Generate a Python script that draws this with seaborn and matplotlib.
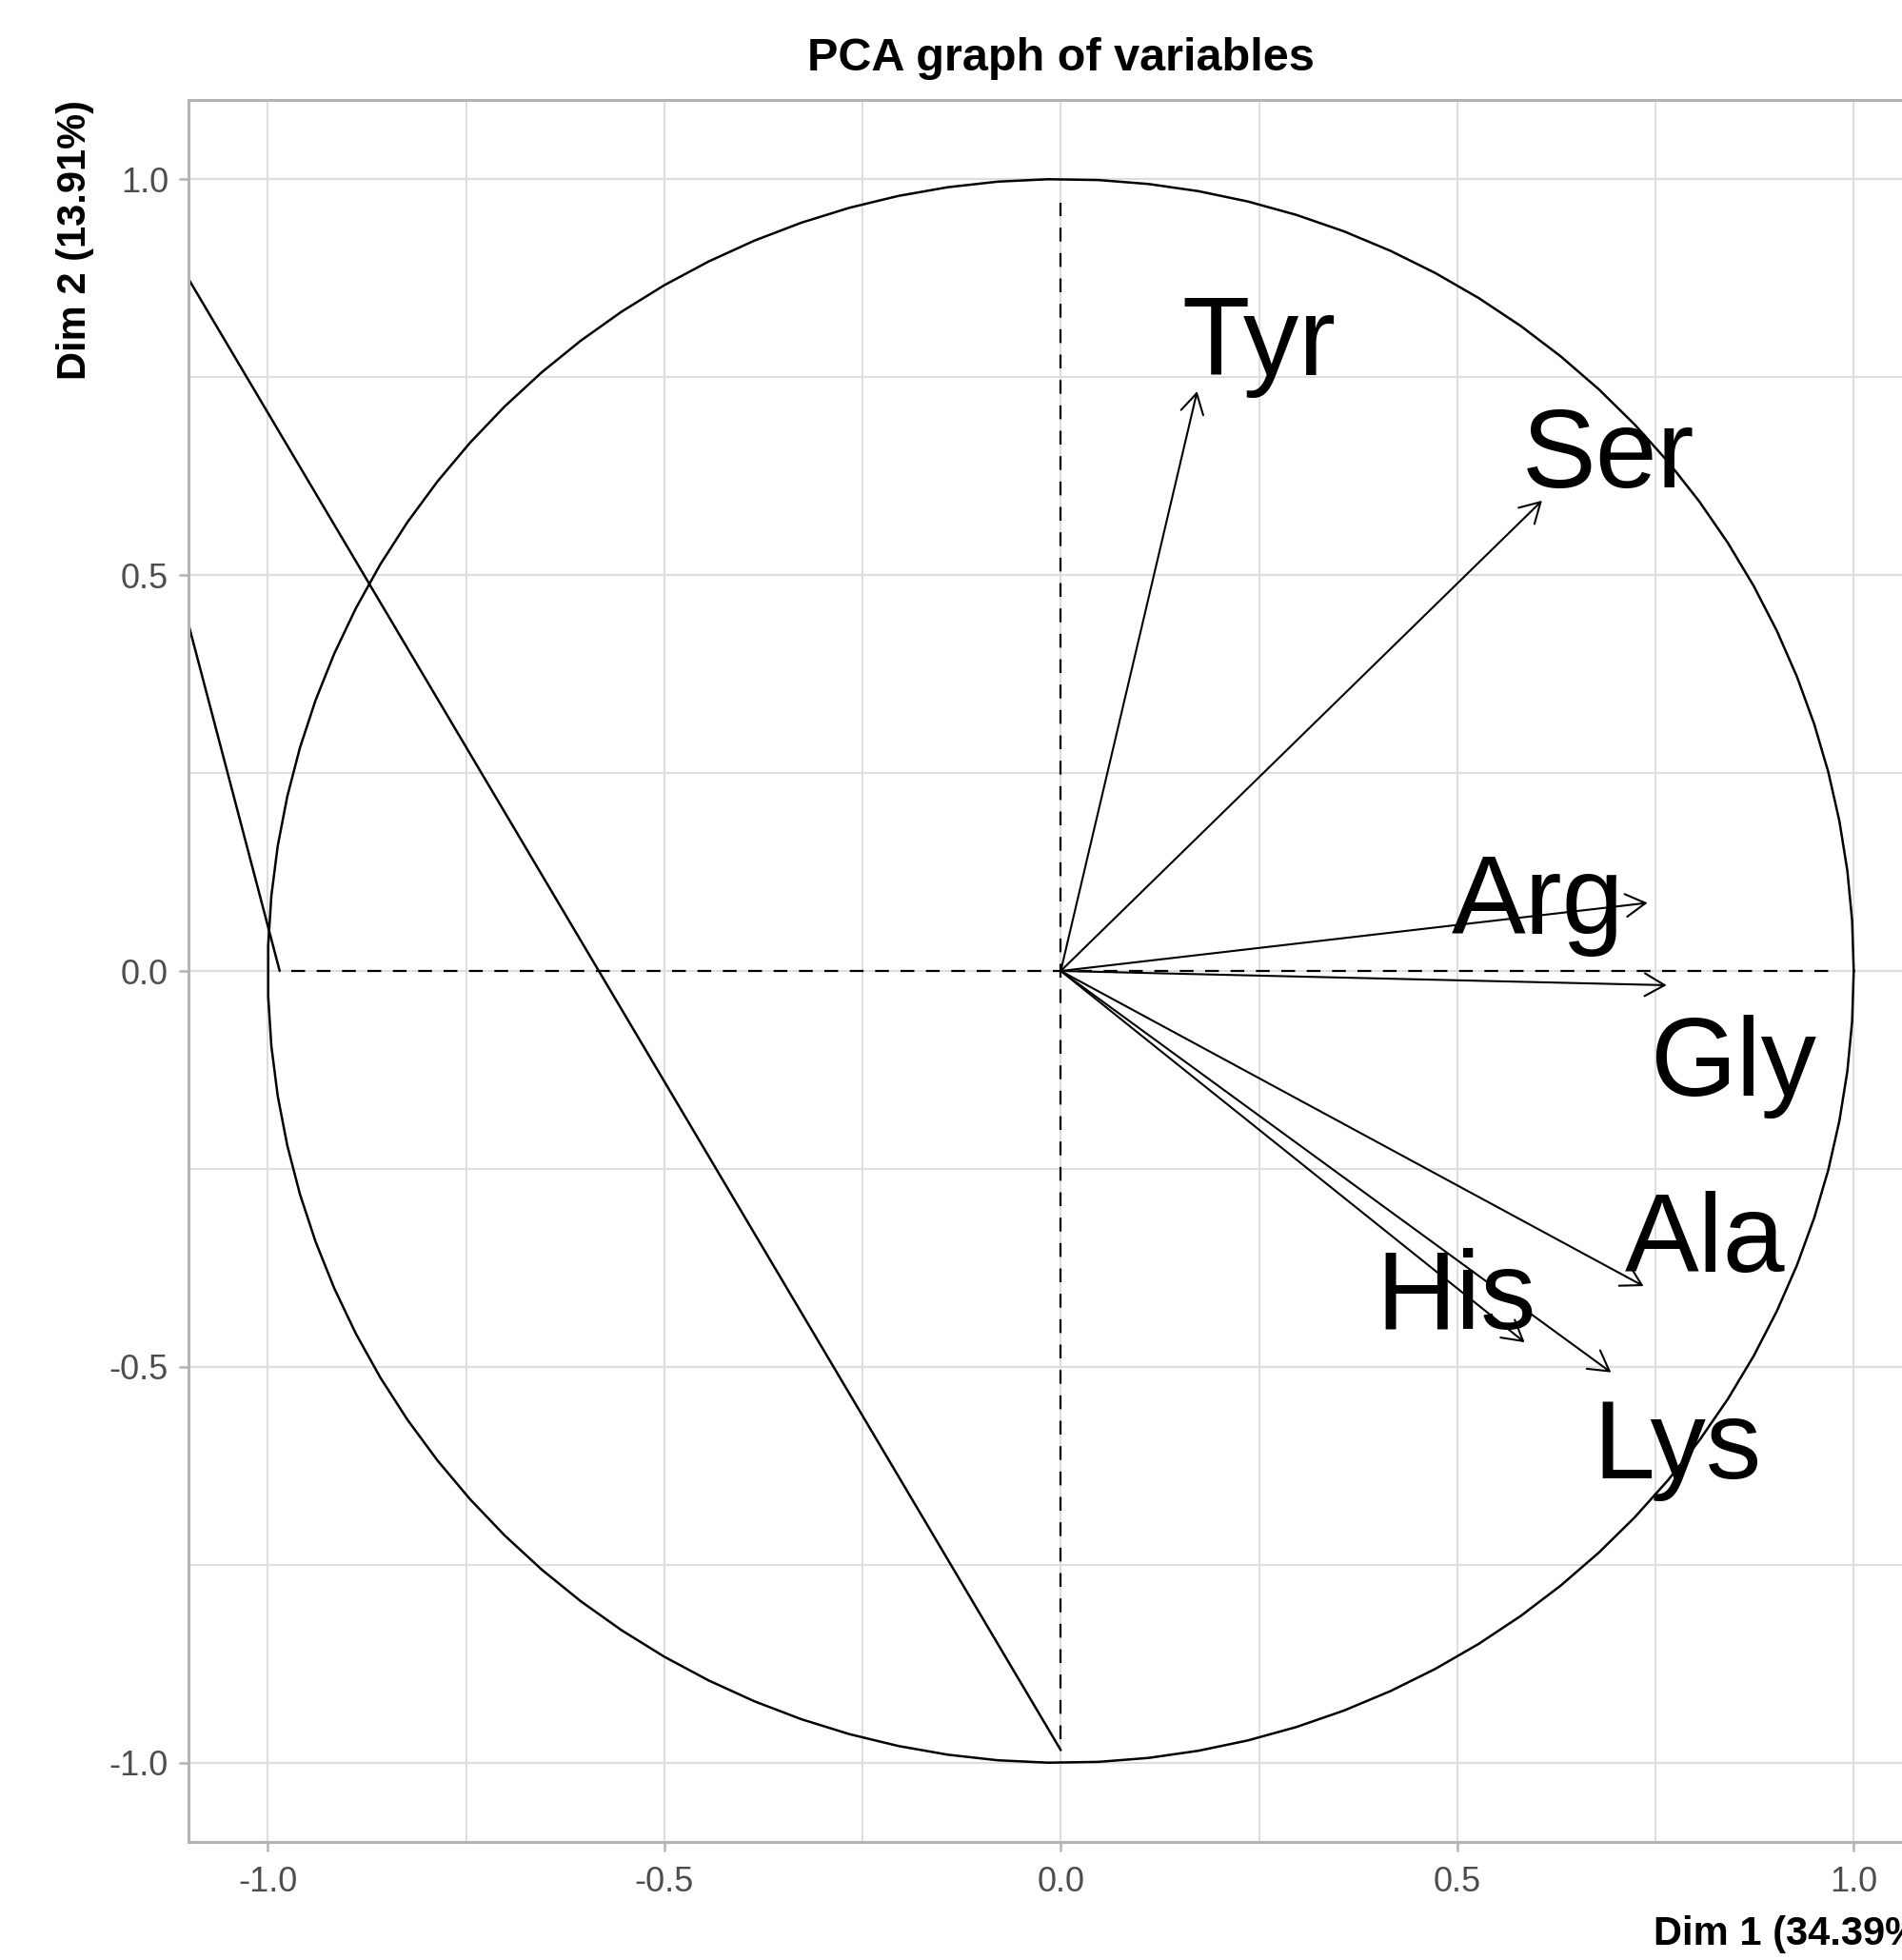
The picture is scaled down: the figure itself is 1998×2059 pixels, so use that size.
import numpy as np
import pandas as pd
import matplotlib
matplotlib.use("Agg")
import matplotlib.pyplot as plt
import seaborn as sns

# variable coordinates (Dim 1, Dim 2)
variables = ["Tyr", "Ser", "Arg", "Gly", "Ala", "His", "Lys"]
dim1 = [0.172, 0.607, 0.740, 0.764, 0.735, 0.585, 0.694]
dim2 = [0.732, 0.594, 0.086, -0.018, -0.398, -0.469, -0.507]

# where the labels ended up (baseline, centred)
label_x = [0.250, 0.690, 0.602, 0.848, 0.812, 0.499, 0.777]
label_y = [0.753, 0.611, 0.047, -0.158, -0.380, -0.452, -0.641]

# stray segments that show up on the left of the plot
stray1_x = [-1.10, 0.0]
stray1_y = [0.874, -0.984]
stray2_x = [-1.10, -0.985]
stray2_y = [0.438, 0.0]

# dashed axis segments
axis_lim = 0.97

ticks = [-1.0, -0.5, 0.0, 0.5, 1.0]
tick_labels = ["-1.0", "-0.5", "0.0", "0.5", "1.0"]
minor_ticks = [-0.75, -0.25, 0.25, 0.75]

# correlation circle, 100 points like factoextra
npoints = 100
t = np.linspace(0, 2 * np.pi, npoints)
circle = pd.DataFrame({"x": np.cos(t), "y": np.sin(t)})

sns.set_theme(style="whitegrid")
plt.rcParams['font.family'] = ['Liberation Sans', 'DejaVu Sans']

fig = plt.figure(figsize=(19.98, 20.59), dpi=100)
ax = fig.add_axes([198 / 1998, 124 / 2059, 1832.6 / 1998, 1830 / 2059])
ax.set_facecolor("white")

sns.lineplot(data=circle, x="x", y="y", sort=False, estimator=None,
             color="black", linewidth=1.8, ax=ax)
sns.lineplot(x=stray1_x, y=stray1_y, sort=False, estimator=None,
             color="black", linewidth=1.8, ax=ax)
sns.lineplot(x=stray2_x, y=stray2_y, sort=False, estimator=None,
             color="black", linewidth=1.8, ax=ax)

ax.plot([-axis_lim, axis_lim], [0, 0], color="black", linewidth=1.6,
        linestyle=(0, (6.5, 5.5)))
ax.plot([0, 0], [-axis_lim, axis_lim], color="black", linewidth=1.6,
        linestyle=(0, (6.5, 5.5)))

for x, y in zip(dim1, dim2):
    ax.annotate("", xy=(x, y), xytext=(0, 0),
                arrowprops=dict(arrowstyle="->,head_length=15,head_width=8.6",
                                mutation_scale=1, color="black", lw=1.5,
                                shrinkA=0, shrinkB=0))

for name, x, y in zip(variables, label_x, label_y):
    ax.text(x, y, name, fontsize=84, ha="center", va="baseline", color="black")

ax.set_xlim(-1.1, 1.1)
ax.set_ylim(-1.1, 1.1)
ax.set_xticks(ticks)
ax.set_xticklabels(tick_labels)
ax.set_yticks(ticks)
ax.set_yticklabels(tick_labels)
ax.set_xticks(minor_ticks, minor=True)
ax.set_yticks(minor_ticks, minor=True)
ax.grid(which="major", color="#DEDEDE", linewidth=1.6)
ax.grid(which="minor", color="#DEDEDE", linewidth=1.4)
ax.set_axisbelow(True)
ax.tick_params(which="major", length=7.2, width=1.8, color="#B3B3B3",
               labelsize=26, labelcolor="#4D4D4D", direction="out")
ax.tick_params(axis="x", which="major", pad=11)
ax.tick_params(axis="y", which="major", pad=8)
ax.tick_params(which="minor", length=0)
ax.xaxis.set_ticks_position("bottom")
ax.yaxis.set_ticks_position("left")
for s in ax.spines.values():
    s.set_visible(True)
    s.set_color("#B3B3B3")
    s.set_linewidth(2.2)
ax.set_xlabel("")
ax.set_ylabel("")

fig.text(1114 / 1998, 1 - 62 / 2059, "PCA graph of variables", fontsize=35,
         fontweight="bold", ha="center", va="center", color="black")
fig.text(79 / 1998, 1 - 105 / 2059, "Dim 2 (13.91%)", fontsize=30,
         fontweight="bold", ha="center", va="top", rotation=90, color="black")
# the reference figure is cropped on the right, so this label runs off the edge
fig.text(2030.6 / 1998, 1 - 2032 / 2059, "Dim 1 (34.39%)", fontsize=30,
         fontweight="bold", ha="right", va="center", color="black")

fig.savefig("out.png", dpi=100)
